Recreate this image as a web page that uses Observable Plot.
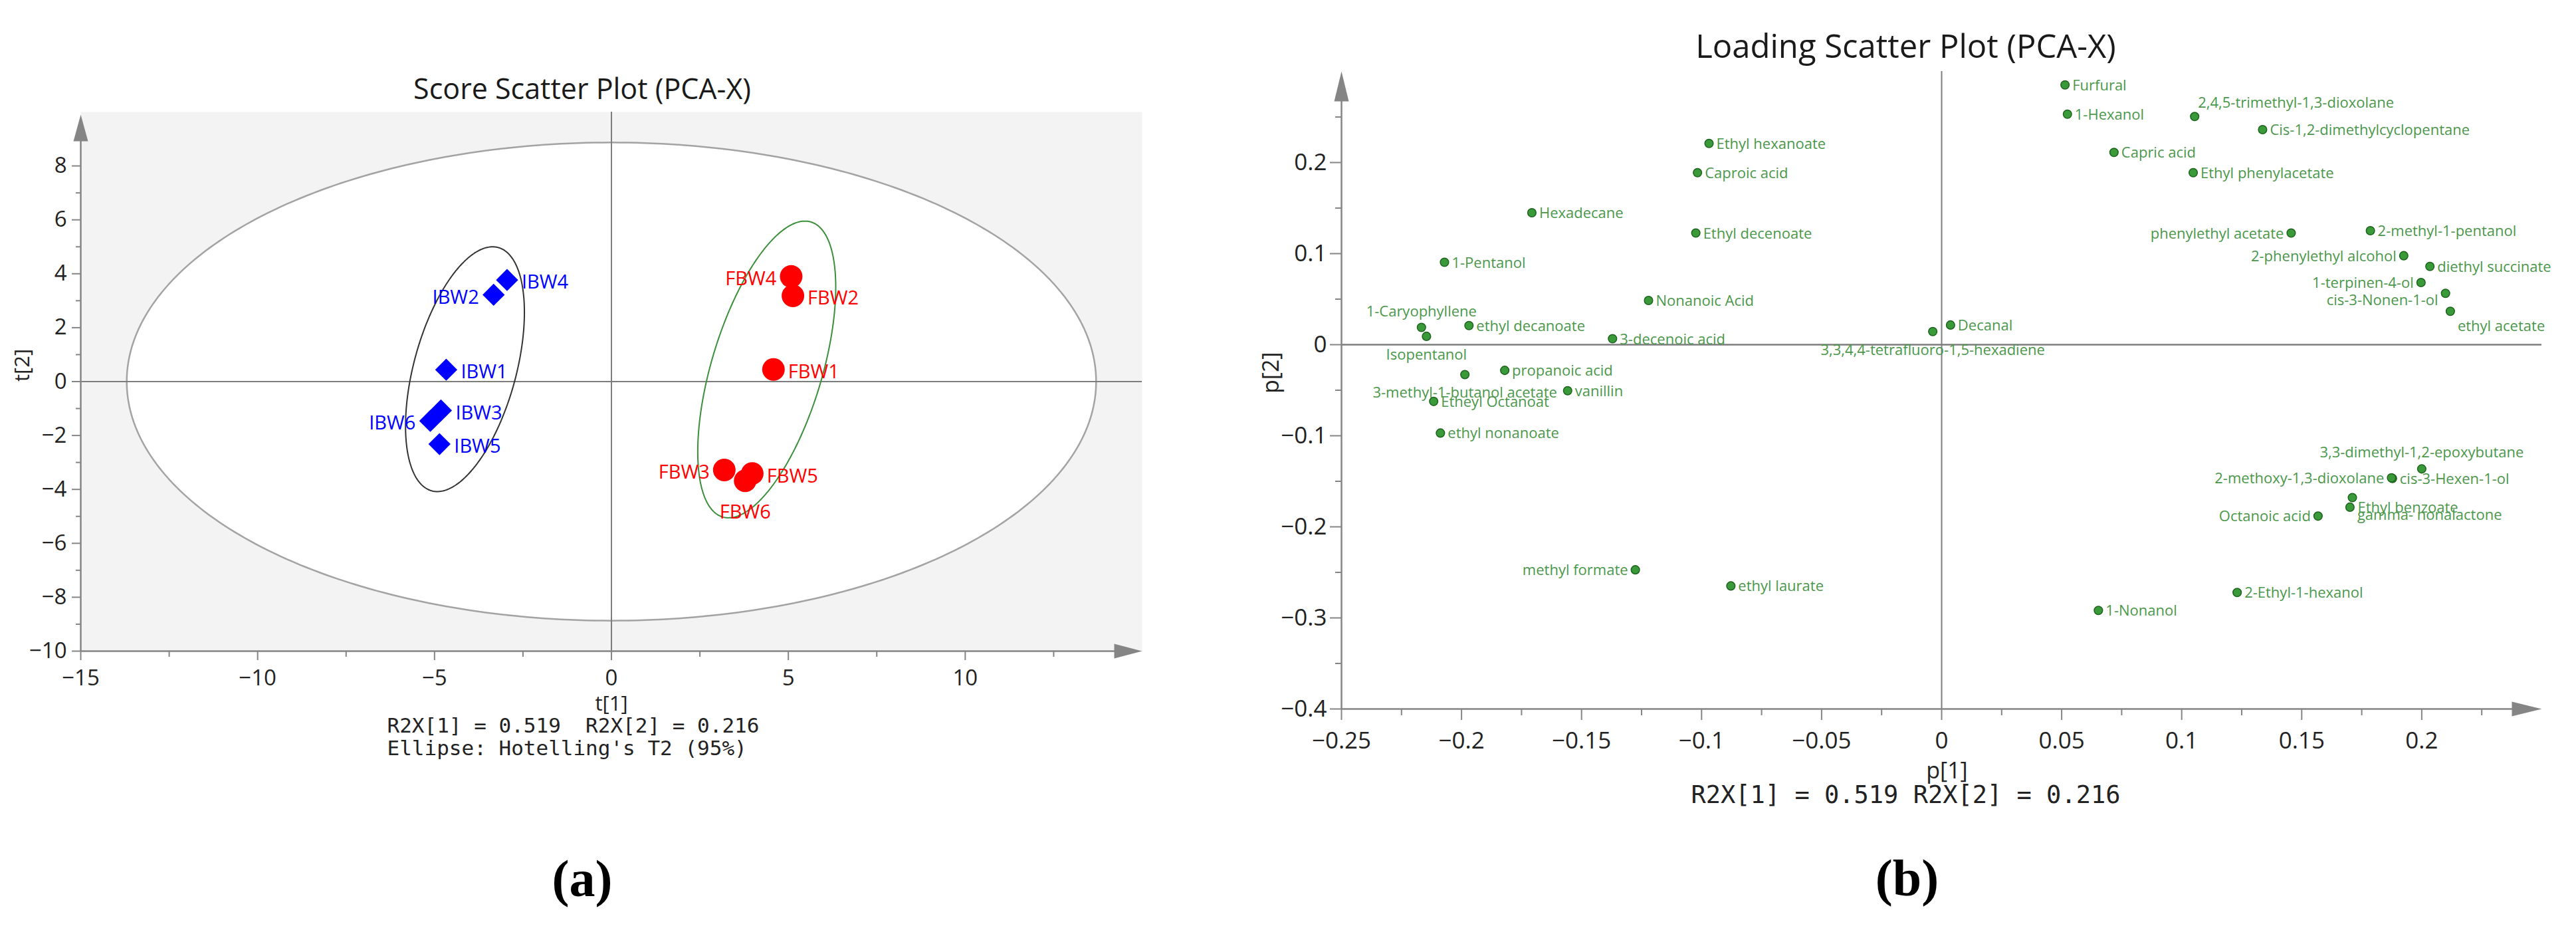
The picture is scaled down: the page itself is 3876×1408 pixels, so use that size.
<!DOCTYPE html>
<html><head><meta charset="utf-8">
<script src="https://cdn.jsdelivr.net/npm/d3@7"></script>
<script src="https://cdn.jsdelivr.net/npm/@observablehq/plot@0.6"></script>
<style>
html,body{margin:0;padding:0;background:#fff;}
#wrap{position:relative;width:3876px;height:1408px;overflow:hidden;background:#fff;}
#a{position:absolute;left:0;top:0;width:1800px;height:1408px;}
#b{position:absolute;left:1850px;top:0;width:2026px;height:1408px;}
svg text{white-space:pre;}
</style></head><body><div id="wrap"><div id="a"></div><div id="b"></div></div>
<script>
// ---------- (a) Score scatter plot data ----------
const scoreNames = ["IBW1","IBW2","IBW3","IBW4","IBW5","IBW6","FBW1","FBW2","FBW3","FBW4","FBW5","FBW6"];
const scoreGroups = ["IBW","IBW","IBW","IBW","IBW","IBW","FBW","FBW","FBW","FBW","FBW","FBW"];
const scoreT1 = [-4.67,-3.33,-4.82,-2.95,-4.86,-5.12, 4.58,5.13,3.19,5.08,3.98,3.78];
const scoreT2 = [0.44,3.22,-1.07,3.77,-2.32,-1.46, 0.45,3.18,-3.28,3.90,-3.41,-3.68];
const scoreLabelSide = ["r","l","r","r","r","l","r","r","l","l","r","b"];
// ellipse parameters: [centerX, centerY, p, r, s]  (x = cx + p cos t, y = cy + r cos t + s sin t)
const hotellingEllipse = [0, 0, 13.7, 0, 8.87];
const ibwEllipse = [-4.14, 0.46, 1.68, 2.11, 4.02];
const fbwEllipse = [4.39, 0.45, 1.95, 3.05, 4.58];
const scoreXTicks = [-15,-10,-5,0,5,10];
const scoreXMinor = [-12.5,-7.5,-2.5,2.5,7.5,12.5];
const scoreYTicks = [-10,-8,-6,-4,-2,0,2,4,6,8];
const scoreYMinor = [-9,-7,-5,-3,-1,1,3,5,7];

// ---------- (b) Loading scatter plot data ----------
const loadNames = ["Furfural","1-Hexanol","2,4,5-trimethyl-1,3-dioxolane","Cis-1,2-dimethylcyclopentane","Capric acid","Ethyl phenylacetate","Ethyl hexanoate","Caproic acid","Hexadecane","Ethyl decenoate","1-Pentanol","Nonanoic Acid","1-Caryophyllene","Isopentanol","ethyl decanoate","3-decenoic acid","propanoic acid","3-methyl-1-butanol acetate","vanillin","Etheyl Octanoat","ethyl nonanoate","Decanal","3,3,4,4-tetrafluoro-1,5-hexadiene","phenylethyl acetate","2-methyl-1-pentanol","2-phenylethyl alcohol","diethyl succinate","1-terpinen-4-ol","cis-3-Nonen-1-ol","ethyl acetate","3,3-dimethyl-1,2-epoxybutane","cis-3-Hexen-1-ol","2-methoxy-1,3-dioxolane","Ethyl benzoate","gamma- nonalactone","Octanoic acid","methyl formate","ethyl laurate","2-Ethyl-1-hexanol","1-Nonanol"];
const loadP1 = [0.0514,0.0524,0.1054,0.1337,0.0718,0.1048,-0.0969,-0.1017,-0.1707,-0.1024,-0.2071,-0.1221,-0.2167,-0.2146,-0.1969,-0.1371,-0.1820,-0.1986,-0.1558,-0.2116,-0.2088,0.0037,-0.0037,0.1456,0.1786,0.1925,0.2034,0.1997,0.2099,0.2119,0.2000,0.1878,0.1874,0.1711,0.1701,0.1568,-0.1276,-0.0878,0.1231,0.0653];
const loadP2 = [0.2852,0.2531,0.2505,0.2361,0.2111,0.1889,0.2210,0.1889,0.1449,0.1226,0.0905,0.0485,0.0190,0.0092,0.0210,0.0066,-0.0282,-0.0328,-0.0505,-0.0623,-0.0970,0.0216,0.0144,0.1226,0.1252,0.0977,0.0859,0.0682,0.0564,0.0367,-0.1364,-0.1469,-0.1462,-0.1679,-0.1784,-0.1882,-0.2472,-0.2649,-0.2721,-0.2918];
const loadLabelSide = ["r","r","ar","r","r","r","r","r","r","r","r","r","a","b","r","r","r","b","r","r","r","r","b","l","r","l","r","l","lb","br","a","r","l","rb","rb2","l","l","r","r","r"];
const loadXTicks = [-0.25,-0.2,-0.15,-0.1,-0.05,0,0.05,0.1,0.15,0.2];
const loadXMinor = [-0.225,-0.175,-0.125,-0.075,-0.025,0.025,0.075,0.125,0.175,0.225];
const loadYTicks = [-0.4,-0.3,-0.2,-0.1,0,0.1,0.2];
const loadYMinor = [-0.35,-0.25,-0.15,-0.05,0.05,0.15,0.25];

// ---------- helpers ----------
const scores = scoreNames.map((n,i)=>({name:n, group:scoreGroups[i], x:scoreT1[i], y:scoreT2[i], side:scoreLabelSide[i]}));
const loads = loadNames.map((n,i)=>({name:n, x:loadP1[i], y:loadP2[i], side:loadLabelSide[i]}));
function ellipsePts(par, n=360){
  const [cx,cy,p,r,s] = par;
  return d3.range(n+1).map(i=>{const t=2*Math.PI*i/n; return {x:cx+p*Math.cos(t), y:cy+r*Math.cos(t)+s*Math.sin(t)};});
}
const fmt = d => d === 0 ? "0" : d3.format("")(d);
const arrowSym = L => ({draw(ctx){ctx.moveTo(0,0);ctx.lineTo(-11,L);ctx.lineTo(11,L);ctx.closePath();}});
const AX = "#858585", TXT = "#222";
const UI = "'Open Sans', 'Noto Sans', sans-serif";
const MONO = "'DejaVu Sans Mono', monospace";
const SERIF = "'Liberation Serif', 'DejaVu Serif', serif";

// ---------- panel (a) ----------
const sideA = {
  r:{textAnchor:"start", dx:22, dy:4},
  l:{textAnchor:"end", dx:-22, dy:4},
  b:{textAnchor:"middle", dx:0, dy:47}
};
const labelMarksA = [];
for (const g of ["IBW","FBW"]) for (const k of Object.keys(sideA)) {
  labelMarksA.push(Plot.text(scores.filter(d=>d.group===g && d.side===k), {x:"x", y:"y", text:"name", ...sideA[k], fontSize:29, fill: g==="IBW" ? "#0000ff" : "#ff0000"}));
}
const plotA = Plot.plot({
  width:1800, height:1408, marginLeft:121, marginRight:82, marginTop:168, marginBottom:429,
  x:{domain:[-15,15]}, y:{domain:[-10,10]},
  style:{fontFamily:UI, background:"transparent", overflow:"visible"},
  marks:[
    Plot.frame({fill:"#f3f3f3", stroke:null}),
    Plot.line(ellipsePts(hotellingEllipse), {x:"x", y:"y", fill:"white", stroke:"#a3a3a3", strokeWidth:2.5}),
    Plot.ruleX([0], {stroke:"#7d7d7d", strokeWidth:2}),
    Plot.ruleY([0], {stroke:"#7d7d7d", strokeWidth:2}),
    Plot.line(ellipsePts(ibwEllipse), {x:"x", y:"y", stroke:"#333", strokeWidth:2}),
    Plot.line(ellipsePts(fbwEllipse), {x:"x", y:"y", stroke:"#3a8f3a", strokeWidth:2}),
    Plot.dot(scores.filter(d=>d.group==="IBW"), {x:"x", y:"y", symbol:"diamond2", r:15, fill:"#0000ff", stroke:null}),
    Plot.dot(scores.filter(d=>d.group==="FBW"), {x:"x", y:"y", r:17, fill:"#ff0000", stroke:null}),
    ...labelMarksA,
    Plot.ruleY([-10], {x1:-15, x2:14.5, stroke:AX, strokeWidth:2.5}),
    Plot.ruleX([-15], {y1:-10, y2:9.5, stroke:AX, strokeWidth:2.5}),
    Plot.dot([{x:-15, y:10}], {x:"x", y:"y", symbol:arrowSym(40), dy:4, fill:AX, stroke:null}),
    Plot.dot([{x:15, y:-10}], {x:"x", y:"y", symbol:arrowSym(42), rotate:90, fill:AX, stroke:null}),
    Plot.axisX({ticks:scoreXTicks, tickFormat:fmt, tickSize:14, tickPadding:14, fontSize:33, stroke:AX, strokeWidth:2, fill:TXT, label:null}),
    Plot.axisX({ticks:scoreXMinor, tickSize:9, stroke:AX, strokeWidth:2, fill:"none", label:null}),
    Plot.axisY({ticks:scoreYTicks, tickFormat:fmt, tickSize:13, tickPadding:8, fontSize:33, stroke:AX, strokeWidth:2, fill:TXT, label:null}),
    Plot.axisY({ticks:scoreYMinor, tickSize:7, stroke:AX, strokeWidth:2, fill:"none", label:null}),
    Plot.text(["Score Scatter Plot (PCA-X)"], {frameAnchor:"top", dx:-44, dy:-50, fontSize:43, fill:"#1a1a1a"}),
    Plot.text(["t[1]"], {frameAnchor:"bottom", dx:0, dy:89, fontSize:31, fill:TXT}),
    Plot.text(["R2X[1] = 0.519  R2X[2] = 0.216"], {frameAnchor:"bottom-left", textAnchor:"start", dx:461, dy:122, fontSize:31, fontFamily:MONO, fill:TXT}),
    Plot.text(["Ellipse: Hotelling's T2 (95%)"], {frameAnchor:"bottom-left", textAnchor:"start", dx:461, dy:156, fontSize:31, fontFamily:MONO, fill:TXT}),
    Plot.text(["(a)"], {frameAnchor:"bottom", dx:-44, dy:368, fontSize:78, fontWeight:"bold", fontFamily:SERIF, fill:"#000"}),
    Plot.text(["t[2]"], {frameAnchor:"left", dx:-87, dy:0, rotate:-90, fontSize:31, fill:TXT})
  ]
});
document.getElementById("a").append(plotA);

// ---------- panel (b) ----------
const sideB = {
  r:{textAnchor:"start", dx:11, dy:1},
  l:{textAnchor:"end", dx:-11, dy:1},
  a:{textAnchor:"middle", dx:0, dy:-24},
  b:{textAnchor:"middle", dx:0, dy:28},
  ar:{textAnchor:"start", dx:5, dy:-20},
  br:{textAnchor:"start", dx:11, dy:23},
  lb:{textAnchor:"end", dx:-11, dy:11},
  rb:{textAnchor:"start", dx:8, dy:15},
  rb2:{textAnchor:"start", dx:11, dy:12}
};
const GREEN_TXT = "#4a974a";
const labelMarksB = Object.keys(sideB).map(k => Plot.text(loads.filter(d=>d.side===k), {x:"x", y:"y", text:"name", ...sideB[k], fontSize:22, fill:GREEN_TXT}));
const plotB = Plot.plot({
  width:2026, height:1408, marginLeft:168, marginRight:52, marginTop:107, marginBottom:342,
  x:{domain:[-0.25,0.25]}, y:{domain:[-0.4,0.3]},
  style:{fontFamily:UI, background:"transparent", overflow:"visible"},
  marks:[
    Plot.ruleX([0], {y1:-0.4, y2:0.3, stroke:"#7d7d7d", strokeWidth:2}),
    Plot.ruleY([0], {x1:-0.25, x2:0.25, stroke:"#7d7d7d", strokeWidth:2.5}),
    Plot.dot(loads, {x:"x", y:"y", r:6.3, fill:"#3a9a3a", stroke:"#1d621d", strokeWidth:1.5}),
    ...labelMarksB,
    Plot.ruleY([-0.4], {x1:-0.25, x2:0.245, stroke:AX, strokeWidth:2.5}),
    Plot.ruleX([-0.25], {y1:-0.4, y2:0.29, stroke:AX, strokeWidth:2.5}),
    Plot.dot([{x:-0.25, y:0.3}], {x:"x", y:"y", symbol:arrowSym(45), fill:AX, stroke:null}),
    Plot.dot([{x:0.25, y:-0.4}], {x:"x", y:"y", symbol:arrowSym(45), rotate:90, fill:AX, stroke:null}),
    Plot.axisX({ticks:loadXTicks, tickFormat:fmt, tickSize:17, tickPadding:18, fontSize:35, stroke:AX, strokeWidth:2, fill:TXT, label:null}),
    Plot.axisX({ticks:loadXMinor, tickSize:10, stroke:AX, strokeWidth:2, fill:"none", label:null}),
    Plot.axisY({ticks:loadYTicks, tickFormat:fmt, tickSize:17, tickPadding:5, fontSize:35, stroke:AX, strokeWidth:2, fill:TXT, label:null}),
    Plot.axisY({ticks:loadYMinor, tickSize:9, stroke:AX, strokeWidth:2, fill:"none", label:null}),
    Plot.text(["Loading Scatter Plot (PCA-X)"], {frameAnchor:"top", dx:-54, dy:-55, fontSize:49, fill:"#1a1a1a"}),
    Plot.text(["p[1]"], {frameAnchor:"bottom", dx:8, dy:104, fontSize:34, fill:TXT}),
    Plot.text(["R2X[1] = 0.519 R2X[2] = 0.216"], {frameAnchor:"bottom", dx:-54, dy:141, fontSize:37, fontFamily:MONO, fill:TXT}),
    Plot.text(["(b)"], {frameAnchor:"bottom", dx:-52, dy:280, fontSize:78, fontWeight:"bold", fontFamily:SERIF, fill:"#000"}),
    Plot.text(["p[2]"], {frameAnchor:"left", dx:-105, dy:5, rotate:-90, fontSize:34, fill:TXT})
  ]
});
document.getElementById("b").append(plotB);
</script></body></html>
